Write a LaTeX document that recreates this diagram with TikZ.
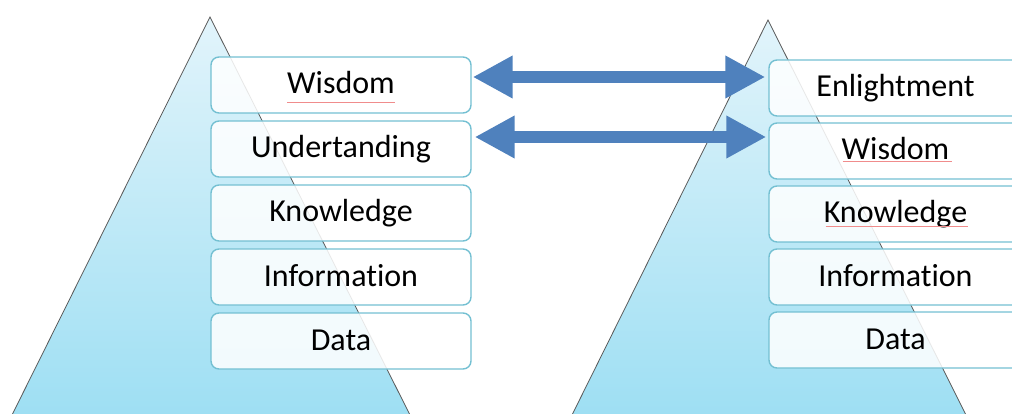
\documentclass[tikz,border=0pt]{standalone}
\usepackage{fontspec}
\setmainfont{Carlito}[Ligatures={NoCommon}]
\usetikzlibrary{arrows.meta,calc}
\definecolor{arrowblue}{HTML}{4F81BD}
\definecolor{boxedge}{HTML}{74C0D2}
\definecolor{tritop}{HTML}{E2F4FB}
\definecolor{tribot}{HTML}{9EDFF3}
\definecolor{spell}{HTML}{F08C8C}
\tikzset{
  pyramid/.style={draw=black!65, line width=0.8pt, top color=tritop, bottom color=tribot},
  levelbox/.style={draw=boxedge, line width=1.4pt, rounded corners=8pt, fill=white, fill opacity=0.86, text opacity=1,
    minimum height=56pt, inner sep=0pt, text height=23pt, text depth=5pt, font=\fontsize{32}{38}\selectfont},
  leftbox/.style={levelbox, minimum width=260pt},
  rightbox/.style={levelbox, minimum width=253pt},
  bigarrow/.style={draw=arrowblue, line width=12pt, {Triangle[length=40pt,width=40pt]}-{Triangle[length=40pt,width=40pt]}},
  squiggle/.style={draw=spell, line width=1pt, opacity=1}
}
\begin{document}
\begin{tikzpicture}[x=1pt,y=-1pt]
\useasboundingbox (0,0) rectangle (1012,414);
\clip (0,0) rectangle (1012,414);
% pyramids
\path[pyramid] (12,415) -- (210,17) -- (410,415) -- cycle;
\path[pyramid] (572,415) -- (768,20) -- (966,415) -- cycle;
% left boxes
\node[leftbox] (lw) at (341,85) {Wisdom};
\node[leftbox] (lu) at (341,149) {Undertanding};
\node[leftbox] (lk) at (341,213) {Knowledge};
\node[leftbox] (li) at (341,277) {Information};
\node[leftbox] (ld) at (341,341) {Data};
% right boxes
\node[rightbox] (re) at (895.5,88) {Enlightment};
\node[rightbox] (rw) at (895.5,151) {Wisdom};
\node[rightbox] (rk) at (895.5,214) {Knowledge};
\node[rightbox] (ri) at (895.5,277) {Information};
\node[rightbox] (rd) at (895.5,340) {Data};
% spelling marks
\draw[squiggle] ($(lw.center)+(-54,18)$) -- ($(lw.center)+(54,18)$);
\draw[squiggle] ($(rw.center)+(-53,11)$) -- ($(rw.center)+(56,11)$);
\draw[squiggle] ($(rk.center)+(-70,13)$) -- ($(rk.center)+(72,13)$);
% arrows
\draw[bigarrow] ([shift={(1,-8)}]lw.east) -- ([shift={(-3,-11)}]re.west);
\draw[bigarrow] ([shift={(3,-12)}]lu.east) -- ([shift={(-2,-14)}]rw.west);
\end{tikzpicture}
\end{document}
